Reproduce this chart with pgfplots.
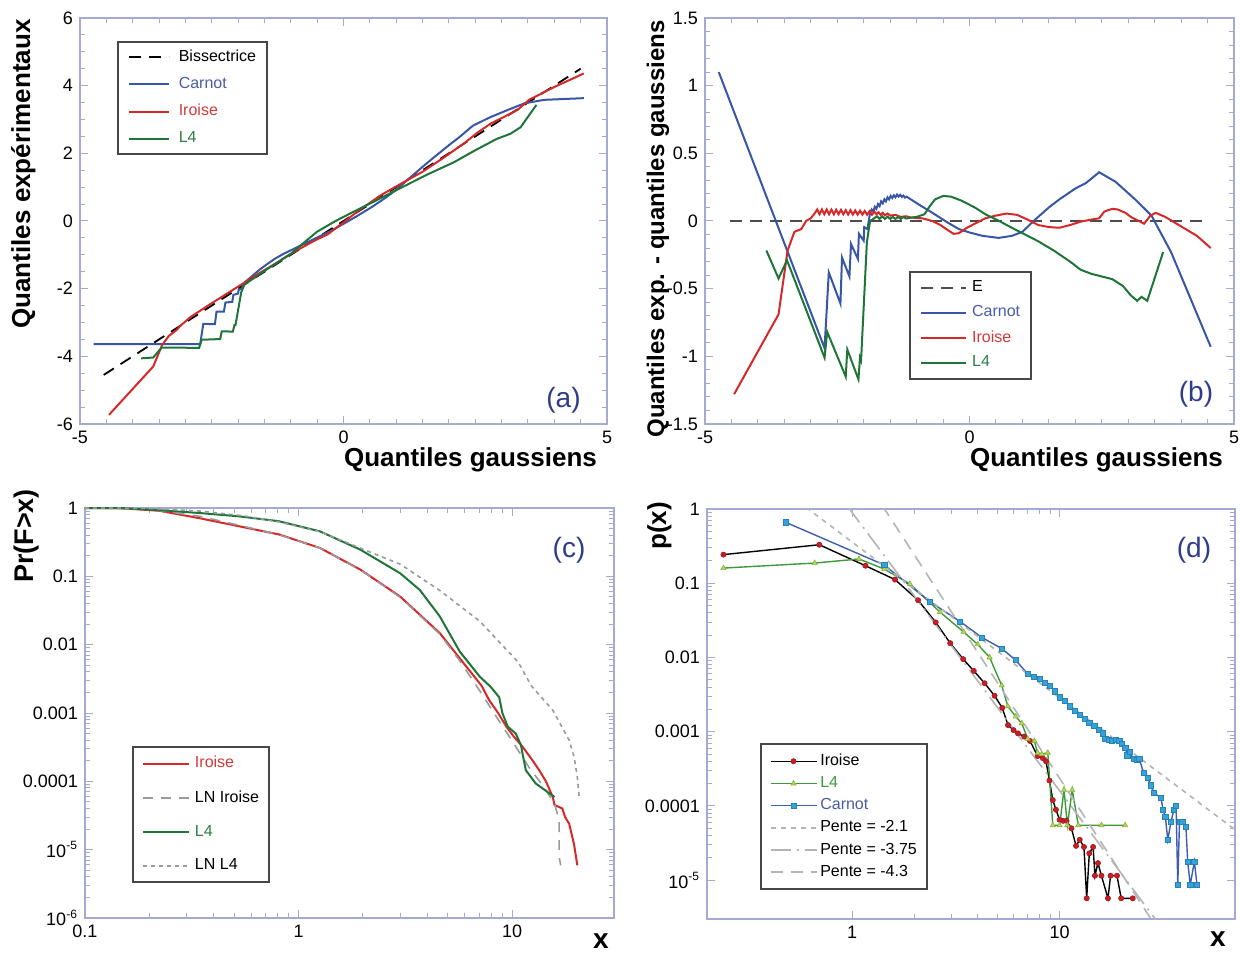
\documentclass[border=0pt]{standalone}
\usepackage{fontspec}
\setmainfont{Liberation Sans}
\usepackage{pgfplots}
\pgfplotsset{compat=1.18}

\definecolor{axcol}{HTML}{A4AAD4}
\definecolor{cblue}{HTML}{3756A6}
\definecolor{cred}{HTML}{D62828}
\definecolor{cgreen}{HTML}{1F7538}
\definecolor{tblue}{HTML}{4B5BA8}
\definecolor{tred}{HTML}{D43A3A}
\definecolor{tgreen}{HTML}{2E7D46}
\definecolor{navy}{HTML}{2F3B8C}
\definecolor{lngray}{HTML}{9A9A9A}
\definecolor{slgray}{HTML}{B4B4B4}
\definecolor{dblue}{HTML}{3E5DB0}
\definecolor{mblue}{HTML}{35A2DD}
\definecolor{mred}{HTML}{C81E26}
\definecolor{dgreen}{HTML}{3C9A3C}
\definecolor{mgreen}{HTML}{B2DA52}

\pgfplotsset{
  panel/.style={
    scale only axis,
    axis line style={draw=axcol,line width=0.7pt},
    every tick/.style={axcol,line width=0.5pt},
    tick align=inside,
    major tick length=4pt,
    minor tick length=2.5pt,
    tick label style={font=\fontsize{9}{10}\selectfont},
    /pgf/number format/assume math mode=true,
    legend cell align=left,
  },
  leg/.style n args={5}{% rel x, rel y, xsep, ysep, row sep
    legend style={at={(rel axis cs:#1,#2)}, anchor=north west,
      draw=black!72, line width=0.9pt, fill=white,
      font=\fontsize{8}{9.6}\selectfont,
      inner xsep=#3, inner ysep=#4, row sep=#5,
      nodes={inner xsep=0.5pt}},
  },
}

\begin{document}
\begin{tikzpicture}
\useasboundingbox (0,0) rectangle (620pt,476pt);

% ---------- (a)
\begin{axis}[panel, at={(40pt,264pt)}, anchor=south west,
  width=263.5pt, height=203pt,
  xmin=-5, xmax=5, ymin=-6, ymax=6,
  xtick={-5,0,5}, ytick={-6,-4,...,6},
  minor x tick num=9, minor y tick num=3,
  leg={0.070}{0.943}{5pt}{2pt}{2.4pt},
  legend style={/tikz/every odd column/.append style={column sep=4pt}},
  legend image code/.code={\draw[#1] (0pt,0pt) -- (20pt,0pt);},
]
\addplot[black, line width=0.9pt, dash pattern=on 6pt off 4pt] coordinates {(-4.55,-4.55) (4.5,4.5)};
\addlegendentry{Bissectrice}
\addplot[cblue, line width=1pt] coordinates {
(-4.74,-3.64) (-2.72,-3.64) (-2.66,-3.04) (-2.44,-3.05) (-2.41,-2.68) (-2.27,-2.68)
(-2.24,-2.41) (-2.11,-2.39) (-2.09,-2.185) (-2.0,-2.145) (-1.99,-2.035) (-1.93,-1.99)
(-1.88,-1.82) (-1.75,-1.65) (-1.6,-1.45) (-1.45,-1.275) (-1.31,-1.125) (-1.15,-0.98)
(-0.95,-0.83) (-0.7,-0.64) (-0.42,-0.43) (-0.2,-0.26) (0,-0.085) (0.25,0.14) (0.55,0.425)
(0.8,0.69) (1.0,0.92) (1.24,1.25) (1.5,1.6) (1.7,1.86) (2.0,2.24) (2.2,2.48) (2.45,2.81)
(2.76,3.05) (3.13,3.29) (3.44,3.48) (3.81,3.58) (4.56,3.63)};
\addlegendentry{\textcolor{tblue}{Carnot}}
\addplot[cred, line width=1pt] coordinates {
(-4.45,-5.73) (-3.61,-4.30) (-3.44,-3.66) (-3.31,-3.39) (-3.18,-3.24) (-3.09,-3.09)
(-2.9,-2.835) (-2.5,-2.43) (-2.0,-1.94) (-1.7,-1.64) (-1.3,-1.265) (-0.9,-0.88)
(-0.55,-0.58) (-0.3,-0.395) (-0.05,-0.1) (0.3,0.32) (0.7,0.755) (1.1,1.11) (1.5,1.455)
(1.9,1.87) (2.3,2.31) (2.55,2.62) (2.8,2.885) (3.05,3.08) (3.3,3.28) (3.52,3.58)
(4.0,3.96) (4.56,4.36)};
\addlegendentry{\textcolor{tred}{Iroise}}
\addplot[cgreen, line width=1pt] coordinates {
(-3.84,-4.06) (-3.61,-4.035) (-3.45,-3.74) (-2.74,-3.75) (-2.69,-3.51) (-2.34,-3.49)
(-2.31,-3.26) (-2.10,-3.27) (-2.07,-3.08) (-2.05,-3.08) (-1.94,-2.10) (-1.88,-1.88)
(-1.5,-1.475) (-1.0,-0.97) (-0.75,-0.64) (-0.5,-0.315) (-0.15,0.0) (0.1,0.2)
(0.56,0.56) (1.0,0.91) (1.6,1.38) (2.1,1.74) (2.5,2.09) (2.9,2.42) (3.17,2.58)
(3.36,2.77) (3.66,3.43)};
\addlegendentry{\textcolor{tgreen}{L4}}
\end{axis}

% ---------- (b)
\begin{axis}[panel, at={(352.5pt,264pt)}, anchor=south west,
  width=264.5pt, height=203pt,
  xmin=-5, xmax=5, ymin=-1.5, ymax=1.5,
  xtick={-5,0,5}, ytick={-1.5,-1,...,1.5},
  minor x tick num=9, minor y tick num=4,
  leg={0.386}{0.377}{5pt}{2.45pt}{1.4pt},
  legend style={/tikz/every odd column/.append style={column sep=2pt}},
  legend image code/.code={\draw[#1] (0pt,0pt) -- (22.5pt,0pt);},
]
\addplot[black!70, line width=0.9pt, dash pattern=on 6pt off 4pt] coordinates {(-4.53,0) (4.52,0)};
\addlegendentry{E}
\addplot[cblue, line width=1pt] coordinates {
(-4.74,1.10) (-2.74,-0.94) (-2.66,-0.38) (-2.44,-0.61) (-2.41,-0.27) (-2.27,-0.41)
(-2.24,-0.17) (-2.11,-0.28) (-2.09,-0.095) (-2.00,-0.145) (-1.99,-0.045) (-1.93,-0.06)
(-1.88,0.06) (-1.85,0.085) (-1.82,0.07) (-1.79,0.105) (-1.76,0.09) (-1.73,0.125)
(-1.70,0.11) (-1.67,0.145) (-1.64,0.13) (-1.61,0.16) (-1.58,0.145) (-1.55,0.175)
(-1.52,0.16) (-1.49,0.185) (-1.46,0.17) (-1.43,0.19) (-1.40,0.175) (-1.37,0.195)
(-1.34,0.18) (-1.31,0.193) (-1.28,0.178) (-1.25,0.188) (-1.22,0.173) (-1.19,0.18)
(-1.15,0.17) (-0.95,0.12) (-0.7,0.06) (-0.42,-0.01) (-0.2,-0.06) (0,-0.085)
(0.25,-0.11) (0.55,-0.125) (0.8,-0.11) (1.0,-0.08) (1.24,0.01) (1.5,0.10) (1.7,0.16)
(2.0,0.24) (2.2,0.28) (2.45,0.36) (2.76,0.29) (3.13,0.16) (3.44,0.04) (3.81,-0.23)
(4.56,-0.93)};
\addlegendentry{\textcolor{tblue}{Carnot}}
\addplot[cred, line width=1pt] coordinates {
(-4.45,-1.28) (-3.61,-0.69) (-3.44,-0.22) (-3.31,-0.08) (-3.18,-0.06) (-3.09,0.0)
(-3.0,0.02) (-2.92,0.06)
(-2.88,0.085) (-2.835,0.05) (-2.79,0.085) (-2.745,0.05) (-2.70,0.085) (-2.655,0.05)
(-2.61,0.084) (-2.565,0.05) (-2.52,0.083) (-2.475,0.05) (-2.43,0.082) (-2.385,0.05)
(-2.34,0.08) (-2.295,0.048) (-2.25,0.08) (-2.205,0.048) (-2.16,0.078) (-2.115,0.047)
(-2.07,0.076) (-2.025,0.047) (-1.98,0.074) (-1.935,0.046) (-1.89,0.072) (-1.845,0.046)
(-1.80,0.07) (-1.76,0.05) (-1.72,0.065) (-1.68,0.045) (-1.64,0.06) (-1.60,0.042)
(-1.55,0.055) (-1.5,0.04) (-1.4,0.045) (-1.3,0.03) (-1.2,0.035) (-1.1,0.025)
(-0.9,0.02) (-0.7,0.0) (-0.55,-0.03) (-0.4,-0.07) (-0.3,-0.095) (-0.2,-0.09)
(-0.05,-0.05) (0.1,-0.02) (0.3,0.02) (0.5,0.04) (0.7,0.055) (0.9,0.045) (1.1,0.01)
(1.3,-0.03) (1.5,-0.045) (1.7,-0.05) (1.9,-0.03) (2.1,-0.005) (2.3,0.01) (2.45,0.02)
(2.55,0.07) (2.7,0.09) (2.8,0.085) (2.95,0.06) (3.05,0.03) (3.2,0.0) (3.3,-0.02)
(3.42,0.04) (3.52,0.06) (3.7,0.03) (4.0,-0.04) (4.3,-0.11) (4.56,-0.20)};
\addlegendentry{\textcolor{tred}{Iroise}}
\addplot[cgreen, line width=1pt] coordinates {
(-3.84,-0.218) (-3.61,-0.425) (-3.45,-0.29) (-2.74,-1.01) (-2.69,-0.82) (-2.34,-1.15)
(-2.31,-0.95) (-2.10,-1.17) (-2.07,-1.01) (-2.05,-1.03) (-1.94,-0.156) (-1.88,0.0)
(-1.8,0.02) (-1.75,0.035) (-1.7,0.015) (-1.65,0.035) (-1.6,0.015) (-1.55,0.032)
(-1.5,0.015) (-1.45,0.03) (-1.4,0.015) (-1.35,0.03) (-1.3,0.015) (-1.25,0.03)
(-1.2,0.018) (-1.1,0.025) (-1.0,0.03) (-0.85,0.05) (-0.75,0.11) (-0.65,0.16)
(-0.5,0.185) (-0.35,0.18) (-0.15,0.15) (0.1,0.10) (0.3,0.05) (0.56,0.0) (0.8,-0.05)
(1.0,-0.09) (1.3,-0.15) (1.6,-0.22) (1.9,-0.3) (2.1,-0.36) (2.3,-0.39) (2.5,-0.41)
(2.7,-0.43) (2.9,-0.48) (3.05,-0.55) (3.17,-0.59) (3.25,-0.56) (3.36,-0.59) (3.66,-0.23)};
\addlegendentry{\textcolor{tgreen}{L4}}
\end{axis}

% ---------- (c)
\begin{axis}[panel, at={(42.5pt,17pt)}, anchor=south west,
  width=264.5pt, height=205pt,
  xmode=log, ymode=log,
  xmin=0.1, xmax=30, ymin=1e-6, ymax=1,
  xtick={0.1,1,10}, xticklabels={0.1,1,10},
  ytick={1e-6,1e-5,1e-4,1e-3,1e-2,1e-1,1},
  yticklabels={10\textsuperscript{-6},10\textsuperscript{-5},0.0001,0.001,0.01,0.1,1},
  leg={0.089}{0.4195}{4.5pt}{2.7pt}{5.9pt},
  legend style={/tikz/every odd column/.append style={column sep=2pt}},
  legend image code/.code={\draw[#1] (0pt,0pt) -- (23pt,0pt);},
]
\addplot[cred, line width=1pt] coordinates {
(0.1,1) (0.15,0.99) (0.223,0.91) (0.343,0.71) (0.527,0.54) (0.81,0.41) (1.26,0.26)
(1.95,0.125) (2.99,0.0506) (4.59,0.0147) (5.69,0.0063) (7.2,0.0025) (7.8,0.00155)
(8.6,0.001) (9.4,0.00063) (10.2,0.00045) (11.2,0.00032) (12.5,0.0002) (13.4,0.000145)
(14.4,0.0001) (15.5,5.9e-5) (15.8,4.5e-5) (17.2,4.0e-5) (17.7,3.0e-5) (18.5,2.4e-5)
(19.5,1.2e-5) (20.2,5.9e-6)};
\addlegendentry{\textcolor{tred}{Iroise}}
\addplot[lngray, line width=0.8pt, dash pattern=on 5pt off 4pt] coordinates {
(0.1,1) (0.2,0.96) (0.35,0.75) (0.5,0.58) (0.8,0.41) (1.26,0.26) (2,0.118) (3,0.049)
(4.59,0.0142) (5.69,0.0058) (7.0,0.0022) (8.5,8.5e-4) (10,3.9e-4) (12,1.6e-4)
(14,8.5e-5) (15.8,4.7e-5) (16.6,2.7e-5) (16.6,7.8e-6) (16.9,5.9e-6)};
\addlegendentry{LN Iroise}
\addplot[cgreen, line width=1pt] coordinates {
(0.1,1) (0.15,0.995) (0.223,0.93) (0.343,0.845) (0.527,0.755) (0.81,0.64) (1.26,0.455)
(1.95,0.245) (2.99,0.111) (3.7,0.063) (4.59,0.0258) (5.69,0.0079) (7.06,0.0034)
(7.95,0.0024) (8.7,0.0017) (9.0,0.001) (9.55,0.00063) (10.4,0.0005) (11.0,0.00034)
(11.2,0.00025) (11.6,0.000145) (12.9,9.3e-5) (15.8,5.9e-5)};
\addlegendentry{\textcolor{tgreen}{L4}}
\addplot[lngray, line width=0.8pt, dash pattern=on 2pt off 2pt] coordinates {
(0.1,1) (0.2,0.985) (0.35,0.9) (0.55,0.77) (0.8,0.63) (1.26,0.45) (2,0.25) (3,0.15)
(4.59,0.062) (7.06,0.022) (10.7,0.0055) (12.3,0.0025) (15.5,0.0011) (18.5,4e-4)
(19.5,2.3e-4) (20.2,1.15e-4) (20.6,5.9e-5)};
\addlegendentry{LN L4}
\end{axis}

% ---------- (d)
\begin{axis}[panel, at={(353.5pt,16.5pt)}, anchor=south west,
  width=264pt, height=205pt,
  xmode=log, ymode=log,
  xmin=0.2, xmax=70, ymin=3e-6, ymax=1,
  xtick={1,10}, xticklabels={1,10},
  ytick={1e-5,1e-4,1e-3,1e-2,1e-1,1},
  yticklabels={10\textsuperscript{-5},0.0001,0.001,0.01,0.1,1},
  leg={0.100}{0.429}{4.5pt}{2.95pt}{0pt},
  legend style={/tikz/every odd column/.append style={column sep=1pt}},
  legend image code/.code={\draw[mark repeat=2,mark phase=2,#1] plot coordinates {(0pt,0pt) (11.5pt,0pt) (23pt,0pt)};},
]
\addplot[black, line width=0.7pt, mark=*, mark size=1.3pt,
  mark options={fill=mred, draw=mred!80!black, line width=0.3pt}] coordinates {
(0.24,0.243) (0.695,0.33) (1.16,0.172) (1.61,0.112) (2.08,0.059) (2.53,0.0297)
(2.97,0.0156) (3.43,0.0095) (3.86,0.0066) (4.35,0.0045) (4.86,0.00305) (5.29,0.0021)
(5.64,0.00123) (6.0,0.00105) (6.3,9.5e-4) (6.75,8.6e-4) (7.2,7.5e-4) (7.84,4.7e-4)
(8.3,4.4e-4) (8.6,4.0e-4) (8.93,2.2e-4) (9.27,1.2e-4) (9.6,8.9e-5) (10.0,6.5e-5)
(10.4,6.3e-5) (10.8,6.3e-5) (11.4,5e-5) (12.0,2.9e-5) (12.5,3.5e-5) (13.1,2.8e-5)
(13.5,5.7e-6) (13.9,2.3e-5) (14.5,2.8e-5) (14.8,1.15e-5) (15.3,1.7e-5) (15.9,1.15e-5)
(17.1,5.7e-6) (17.6,1.15e-5) (18.9,1.15e-5) (19.8,5.7e-6) (22.5,5.7e-6)};
\addlegendentry{Iroise}
\addplot[dgreen, line width=0.7pt, mark=triangle*, mark size=1.5pt,
  mark options={fill=mgreen, draw=mgreen!80!black, line width=0.3pt}] coordinates {
(0.24,0.16) (0.66,0.187) (1.08,0.212) (1.43,0.155) (1.90,0.098) (2.65,0.041)
(3.45,0.022) (4.03,0.015) (4.6,0.01) (5.26,0.0042) (5.63,0.0022) (6.14,0.0016)
(6.57,0.0013) (7.02,8e-4) (7.55,7.5e-4) (7.84,5.2e-4) (8.2,5e-4) (8.77,5.2e-4)
(9.27,5.5e-5) (10.0,5.5e-5) (10.5,1.65e-4) (10.9,5.5e-5) (11.5,1.65e-4) (12.3,5.5e-5)
(15.9,5.5e-5) (20.7,5.5e-5)};
\addlegendentry{\textcolor{dgreen}{L4}}
\addplot[dblue, line width=0.7pt, mark=square*, mark size=1.3pt,
  mark options={fill=mblue, draw=mblue!80!black, line width=0.3pt}] coordinates {
(0.48,0.66) (1.43,0.176) (2.37,0.0564) (3.31,0.0306) (4.22,0.0186) (5.26,0.0132)
(6.14,0.0092) (7.02,0.006) (7.5,0.0055) (8.0,0.0051) (8.5,0.0046) (8.95,0.0042)
(9.5,0.0035) (10,0.0029) (10.6,0.0026) (11.2,0.0022) (11.8,0.0019) (12.5,0.0017)
(13.2,0.0015) (13.9,0.00133) (14.7,0.0012) (15.5,0.00106) (16.1,0.00095) (16.6,0.0008)
(17.2,0.00078) (17.8,0.00075) (18.6,0.00077) (19.4,0.00075) (20.0,0.00068)
(20.7,0.00061) (21.2,0.00048) (21.7,0.00053) (22.7,0.00043) (23.5,0.00042)
(24.2,0.00043) (25.4,0.00028) (26.5,0.00024) (27.5,0.00019) (28.4,0.00015)
(30.8,0.00013) (31.5,8.8e-5) (32.3,7.2e-5) (33.2,3.5e-5) (34.4,6.1e-5) (35.5,8.8e-5)
(36.4,1.0e-4) (37.1,8.7e-6) (37.8,6.1e-5) (39.0,6.1e-5) (40.6,5.3e-5) (41.4,1.78e-5)
(42.6,8.7e-6) (44.6,1.78e-5) (45.9,8.7e-6)};
\addlegendentry{\textcolor{tblue}{Carnot}}
\addplot[slgray, line width=0.8pt, dash pattern=on 2.5pt off 2.5pt] coordinates {(0.6,1.05) (70,4.79e-5)};
\addlegendentry{Pente = -2.1}
\addplot[slgray, line width=0.8pt, dash pattern=on 10pt off 3pt on 1pt off 3pt] coordinates {(0.95,1.09) (30,2.6e-6)};
\addlegendentry{Pente = -3.75}
\addplot[slgray, line width=0.8pt, dash pattern=on 6pt off 4pt] coordinates {(1.4,1.107) (28,2.8e-6)};
\addlegendentry{Pente = -4.3}
\end{axis}

% ---------- axis titles and panel letters
\node[rotate=90, anchor=base, font=\fontsize{13}{15}\bfseries\selectfont] at (15pt,389pt) {Quantiles expérimentaux};
\node[anchor=base east, font=\fontsize{13}{15}\bfseries\selectfont] at (302pt,242.5pt) {Quantiles gaussiens};
\node[rotate=90, anchor=base, font=\fontsize{12}{14}\bfseries\selectfont] at (332pt,361.5pt) {Quantiles exp. - quantiles gaussiens};
\node[anchor=base east, font=\fontsize{13}{15}\bfseries\selectfont] at (615pt,242.5pt) {Quantiles gaussiens};
\node[rotate=90, anchor=base, font=\fontsize{13.5}{15}\bfseries\selectfont] at (16.5pt,208pt) {Pr(F>x)};
\node[anchor=base, font=\fontsize{14}{16}\bfseries\selectfont] at (300.5pt,2pt) {x};
\node[rotate=90, anchor=base, font=\fontsize{13}{15}\bfseries\selectfont] at (333pt,213pt) {p(x)};
\node[anchor=base, font=\fontsize{14}{16}\bfseries\selectfont] at (609pt,3pt) {x};

\node[navy, font=\fontsize{14}{16}\selectfont] at (281.75pt,276pt) {(a)};
\node[navy, font=\fontsize{14}{16}\selectfont] at (598pt,279pt) {(b)};
\node[navy, font=\fontsize{14}{16}\selectfont] at (284.5pt,201pt) {(c)};
\node[navy, font=\fontsize{14}{16}\selectfont] at (597pt,201pt) {(d)};
\end{tikzpicture}
\end{document}
